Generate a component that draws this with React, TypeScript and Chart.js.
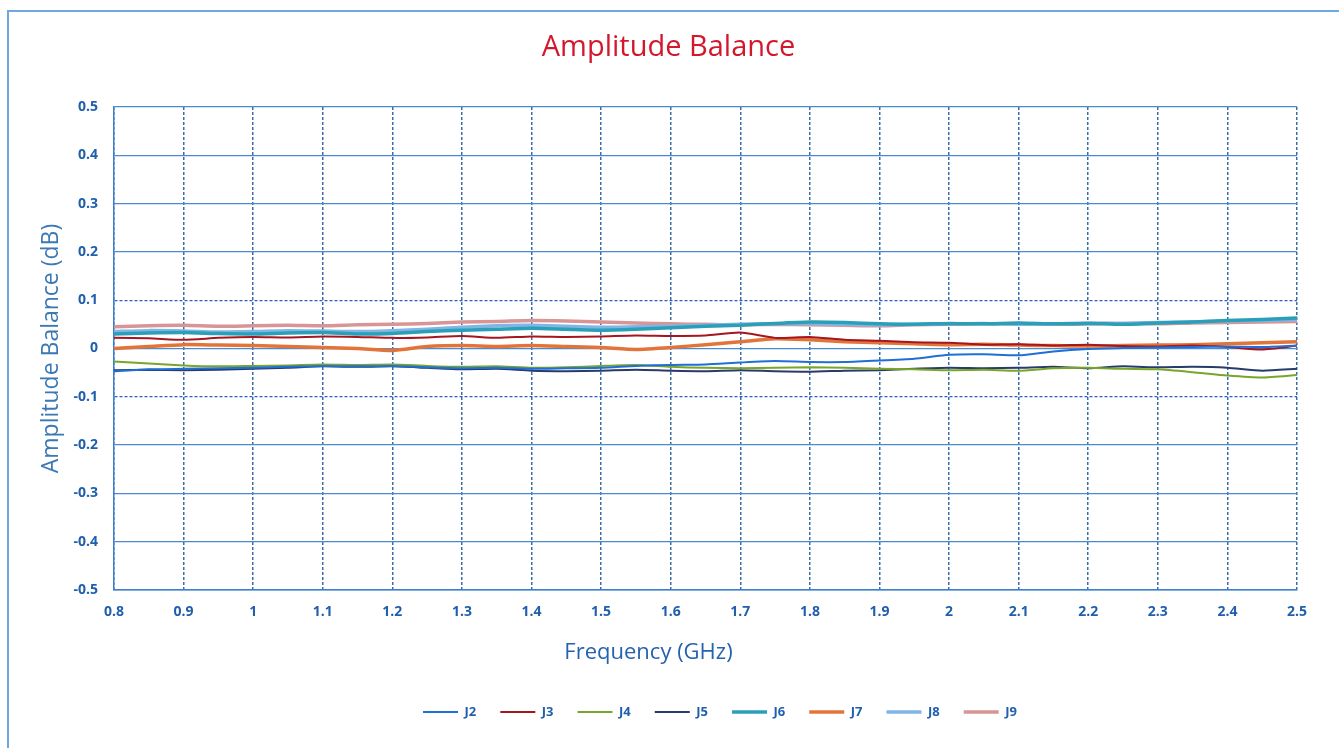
import React, { useEffect, useRef } from "react";
import { Chart, registerables } from "chart.js";

Chart.register(...registerables);

const freqs = [0.8, 0.85, 0.9, 0.95, 1.0, 1.05, 1.1, 1.15, 1.2, 1.25, 1.3, 1.35, 1.4, 1.45, 1.5, 1.55, 1.6, 1.65, 1.7, 1.75, 1.8, 1.85, 1.9, 1.95, 2.0, 2.05, 2.1, 2.15, 2.2, 2.25, 2.3, 2.35, 2.4, 2.45, 2.5];

const j2 = [-0.047, -0.043, -0.042, -0.041, -0.04, -0.038, -0.036, -0.037, -0.036, -0.039, -0.041, -0.04, -0.042, -0.041, -0.04, -0.036, -0.034, -0.033, -0.029, -0.026, -0.028, -0.028, -0.025, -0.021, -0.013, -0.012, -0.014, -0.006, -0.001, 0.001, 0.002, 0.003, 0.004, 0.003, 0.006];
const j3 = [0.022, 0.021, 0.018, 0.022, 0.024, 0.023, 0.025, 0.024, 0.022, 0.023, 0.026, 0.022, 0.025, 0.024, 0.025, 0.027, 0.026, 0.027, 0.033, 0.022, 0.024, 0.018, 0.016, 0.013, 0.012, 0.008, 0.009, 0.006, 0.008, 0.005, 0.004, 0.006, 0.003, -0.002, 0.006];
const j4 = [-0.027, -0.031, -0.035, -0.037, -0.036, -0.035, -0.033, -0.034, -0.033, -0.036, -0.038, -0.037, -0.04, -0.039, -0.036, -0.034, -0.038, -0.04, -0.041, -0.04, -0.039, -0.04, -0.042, -0.043, -0.045, -0.044, -0.046, -0.041, -0.04, -0.042, -0.043, -0.049, -0.056, -0.06, -0.055];
const j5 = [-0.045, -0.044, -0.045, -0.044, -0.042, -0.04, -0.037, -0.038, -0.037, -0.04, -0.043, -0.042, -0.046, -0.047, -0.046, -0.044, -0.046, -0.047, -0.045, -0.047, -0.048, -0.046, -0.045, -0.042, -0.04, -0.041, -0.04, -0.038, -0.041, -0.037, -0.039, -0.038, -0.04, -0.046, -0.042];
const j6 = [0.03, 0.032, 0.033, 0.031, 0.03, 0.032, 0.033, 0.03, 0.031, 0.035, 0.038, 0.04, 0.042, 0.04, 0.038, 0.04, 0.043, 0.046, 0.048, 0.052, 0.055, 0.054, 0.051, 0.05, 0.052, 0.051, 0.053, 0.051, 0.052, 0.05, 0.053, 0.055, 0.058, 0.06, 0.063];
const j7 = [0.0, 0.004, 0.008, 0.007, 0.006, 0.004, 0.002, 0.0, -0.004, 0.004, 0.006, 0.004, 0.006, 0.004, 0.002, -0.002, 0.002, 0.008, 0.014, 0.02, 0.018, 0.014, 0.012, 0.01, 0.008, 0.009, 0.007, 0.006, 0.005, 0.006, 0.007, 0.008, 0.01, 0.012, 0.014];
const j8 = [0.035, 0.037, 0.036, 0.034, 0.035, 0.037, 0.036, 0.035, 0.037, 0.04, 0.044, 0.047, 0.048, 0.046, 0.044, 0.045, 0.046, 0.048, 0.05, 0.051, 0.052, 0.05, 0.049, 0.05, 0.051, 0.052, 0.05, 0.051, 0.053, 0.052, 0.054, 0.055, 0.057, 0.058, 0.06];
const j9 = [0.045, 0.047, 0.048, 0.046, 0.047, 0.048, 0.047, 0.049, 0.05, 0.052, 0.055, 0.056, 0.058, 0.057, 0.055, 0.053, 0.051, 0.05, 0.049, 0.05, 0.049, 0.048, 0.047, 0.049, 0.05, 0.051, 0.052, 0.05, 0.051, 0.052, 0.051, 0.053, 0.054, 0.055, 0.056];

const seriesNames = ["J2", "J3", "J4", "J5", "J6", "J7", "J8", "J9"];
const seriesValues = [j2, j3, j4, j5, j6, j7, j8, j9];
const seriesColors = ["#1f6fd6", "#a5161e", "#79a52b", "#283b6b", "#2b9fb8", "#e2743a", "#7fb6e6", "#d99595"];
const seriesWidths = [2, 2, 2, 2, 3.5, 3.5, 3.5, 3.5];

const xTicks = [0.8, 0.9, 1, 1.1, 1.2, 1.3, 1.4, 1.5, 1.6, 1.7, 1.8, 1.9, 2, 2.1, 2.2, 2.3, 2.4, 2.5];
const yTicks = [-0.5, -0.4, -0.3, -0.2, -0.1, 0, 0.1, 0.2, 0.3, 0.4, 0.5];
const limitValues = [0.1, -0.1];

const TICK_COLOR = "#1f5fae";
const FONT = "'Open Sans', 'Noto Sans', sans-serif";
const LEGEND_SHIFT = 71.5;
const TITLE_SHIFT = 20;

const fmt = (v: number) => String(Number(Number(v).toFixed(1)));
const isLimit = (v: number) => limitValues.some((l) => Math.abs(v - l) < 1e-9);

const shiftPlugin = {
  id: "shiftBoxes",
  afterLayout(chart: any) {
    if (chart.legend) {
      chart.legend.left += LEGEND_SHIFT;
      chart.legend.right += LEGEND_SHIFT;
    }
    if (chart.titleBlock) {
      chart.titleBlock.left += TITLE_SHIFT;
      chart.titleBlock.right += TITLE_SHIFT;
    }
  },
};

export default function App() {
  const ref = useRef<HTMLCanvasElement | null>(null);

  useEffect(() => {
    document.body.style.margin = "0";
    if (!ref.current) return;
    const datasets = seriesNames.map((name, i) => ({
      label: name,
      data: freqs.map((f, k) => ({ x: f, y: seriesValues[i][k] })),
      borderColor: seriesColors[i],
      backgroundColor: seriesColors[i],
      borderWidth: seriesWidths[i],
      pointRadius: 0,
      tension: 0.2,
      fill: false,
    }));
    const chart = new Chart(ref.current, {
      type: "line",
      data: { datasets },
      plugins: [shiftPlugin],
      options: {
        animation: false,
        responsive: false,
        maintainAspectRatio: false,
        layout: { padding: { top: 0, left: 0, right: 43, bottom: 19.5 } },
        plugins: {
          title: {
            display: true,
            text: "Amplitude Balance",
            color: "#d4182c",
            font: { family: FONT, size: 29, weight: "normal" },
            padding: { top: 30.6, bottom: 41.6 },
          },
          subtitle: {
            display: true,
            position: "bottom",
            weight: 500,
            text: "Frequency (GHz)",
            color: "#2563b0",
            font: { family: FONT, size: 22, weight: "normal" },
            padding: { top: 4.8, bottom: 15.3 },
          },
          legend: {
            display: true,
            position: "bottom",
            labels: {
              usePointStyle: true,
              pointStyle: "line",
              pointStyleWidth: 35,
              padding: 24,
              color: TICK_COLOR,
              font: { family: FONT, size: 13, weight: "bold" },
            },
          },
          tooltip: { enabled: false },
        },
        scales: {
          x: {
            type: "linear",
            min: 0.8,
            max: 2.5,
            afterBuildTicks: (scale: any) => {
              scale.ticks = xTicks.map((v) => ({ value: v }));
            },
            afterFit: (scale: any) => {
              scale.height = 45;
            },
            ticks: {
              color: TICK_COLOR,
              font: { family: FONT, size: 14, weight: "bold" },
              padding: 14,
              maxRotation: 0,
              autoSkip: false,
              callback: (v: any) => fmt(v),
            },
            grid: {
              color: "#3b6ea8",
              lineWidth: 1.5,
              drawTicks: false,
            },
            border: { display: true, color: "#3b7fcc", width: 1.5, dash: [3, 2] },
            title: { display: false },
          },
          y: {
            type: "linear",
            min: -0.5,
            max: 0.5,
            afterBuildTicks: (scale: any) => {
              scale.ticks = yTicks.map((v) => ({ value: v }));
            },
            afterFit: (scale: any) => {
              scale.width = 114;
            },
            ticks: {
              color: TICK_COLOR,
              font: { family: FONT, size: 14, weight: "bold" },
              padding: 16,
              callback: (v: any) => fmt(v),
            },
            grid: {
              color: (ctx: any) => (ctx.tick && isLimit(ctx.tick.value) ? "#2a62bd" : "#4a8bd0"),
              lineWidth: 1.3,
              drawTicks: false,
            },
            border: {
              display: true,
              color: "#3b7fcc",
              width: 1.5,
              dash: (ctx: any) => (ctx.tick && isLimit(ctx.tick.value) ? [3, 2] : []),
            },
            title: {
              display: true,
              text: "Amplitude Balance (dB)",
              color: "#3b78b5",
              font: { family: FONT, size: 23, weight: "normal" },
              padding: { top: 37.2, bottom: 0 },
            },
          },
        },
      },
    } as any);
    return () => chart.destroy();
  }, []);

  return (
    <div style={{ position: "relative", width: 1340, height: 748, background: "#ffffff" }}>
      <canvas ref={ref} width={1340} height={748} style={{ position: "absolute", left: 0, top: 0 }} />
      <div
        style={{
          position: "absolute",
          left: 7,
          top: 10,
          width: 1330,
          height: 740,
          borderTop: "2px solid #6fa8dc",
          borderLeft: "2px solid #6fa8dc",
          pointerEvents: "none",
        }}
      />
    </div>
  );
}
